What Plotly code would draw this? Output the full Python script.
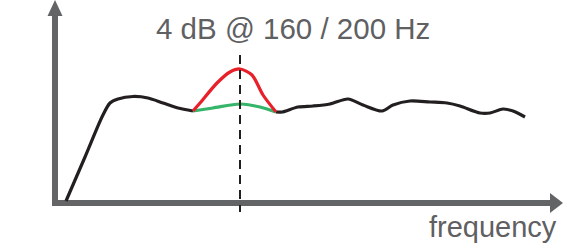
import plotly.graph_objects as go

# Schematic frequency response (frequency in arbitrary units, level in arbitrary dB units)
base_freq_low = [66, 85, 102, 110, 118, 133, 148, 163, 178, 193]
base_level_low = [5, 49, 89, 103, 107, 109.5, 108, 103, 98, 95]

peak_freq = [193, 200, 217, 230, 240, 252, 263, 276]
peak_level = [95, 103, 123, 134, 137, 131, 111, 94]

flat_freq = [193, 213, 240, 260, 276]
flat_level = [95, 98, 102, 99, 94]

base_freq_high = [276, 282, 298, 313, 330, 348, 363, 382, 393, 410, 430, 447, 460, 480, 490, 503, 513, 525]
base_level_high = [94, 94, 99, 100, 102, 107, 101, 95, 101, 105, 104, 103, 100, 93, 93, 97, 95, 89]

marker_freq = 240
title_text = "4 dB @ 160 / 200 Hz"
y_label = "dB"
x_label = "frequency"

GRAY = "#636466"
TXT = "#5f6062"
BLACK = "#231f20"
RED = "#e8202a"
GREEN = "#35b56a"

fig = go.Figure()

def curve(xs, ys, color):
    fig.add_trace(go.Scatter(x=xs, y=ys, mode="lines",
                             line=dict(color=color, width=3.2, shape="spline", smoothing=0.8),
                             hoverinfo="skip", showlegend=False))

# Axes (drawn as shapes)
shapes = [
    dict(type="rect", x0=52, x1=58, y0=0, y1=190, fillcolor=GRAY, line=dict(width=0), layer="below"),
    dict(type="path", path="M 47.5 190 L 55 206 L 62.5 190 Z", fillcolor=GRAY, line=dict(width=0), layer="below"),
    dict(type="rect", x0=52, x1=551, y0=0, y1=6, fillcolor=GRAY, line=dict(width=0), layer="below"),
    dict(type="path", path="M 550 13 L 563 3 L 550 -7 Z", fillcolor=GRAY, line=dict(width=0), layer="below"),
]
fig.update_layout(shapes=shapes)

curve(base_freq_low, base_level_low, BLACK)
curve(base_freq_high, base_level_high, BLACK)
curve(flat_freq, flat_level, GREEN)
curve(peak_freq, peak_level, RED)

fig.add_trace(go.Scatter(x=[marker_freq, marker_freq], y=[151, -6], mode="lines",
                         line=dict(color=BLACK, width=2, dash="9px,6px"),
                         hoverinfo="skip", showlegend=False))

def font(size):
    return dict(family="Liberation Sans, Arial, sans-serif", size=size, color=TXT)

fig.add_annotation(x=293, y=177.5, text=title_text, showarrow=False, font=font(29.5),
                   xanchor="center", yanchor="middle")
fig.add_annotation(x=-2, y=177, text=y_label, showarrow=False, font=font(30),
                   xanchor="left", yanchor="middle")
fig.add_annotation(x=559, y=-21.4, text=x_label, showarrow=False, font=font(29),
                   xanchor="right", yanchor="middle")

fig.update_layout(
    width=563, height=244,
    margin=dict(l=0, r=0, t=0, b=0),
    paper_bgcolor="white", plot_bgcolor="white",
    xaxis=dict(range=[0, 563], visible=False, fixedrange=True),
    yaxis=dict(range=[-38, 206], visible=False, fixedrange=True),
)

fig.write_html("out.html", config={"displayModeBar": False})
